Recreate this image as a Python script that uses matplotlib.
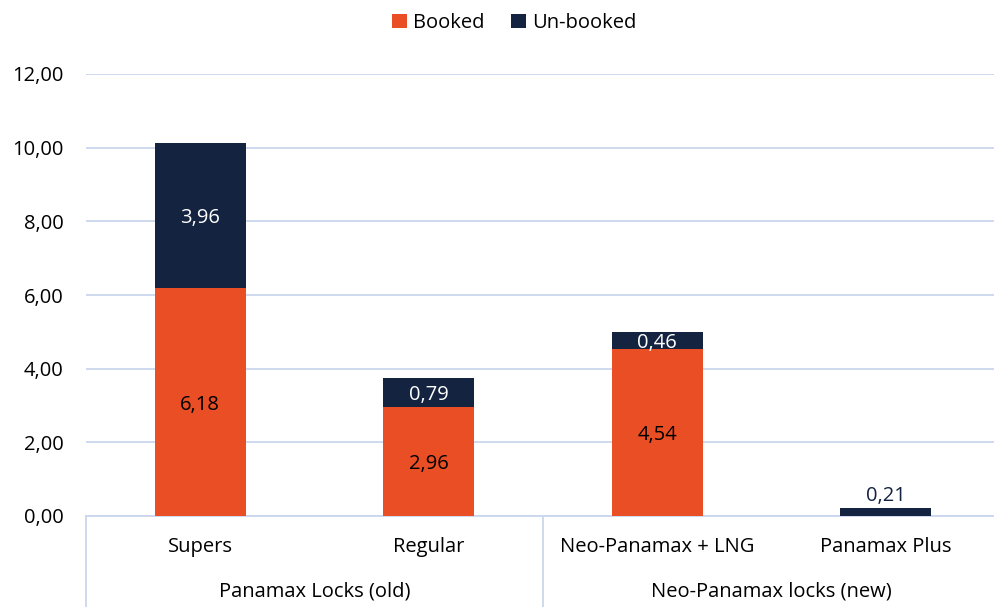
import numpy as np
import matplotlib.pyplot as plt
import matplotlib.transforms as mtransforms

plt.rcParams['font.family'] = ['Open Sans', 'DejaVu Sans']

# ---- data ----
categories = ["Supers", "Regular", "Neo-Panamax + LNG", "Panamax Plus"]
groups = ["Panamax Locks (old)", "Neo-Panamax locks (new)"]
group_sizes = [2, 2]
booked = [6.18, 2.96, 4.54, 0.0]
unbooked = [3.96, 0.79, 0.46, 0.21]

C_BOOKED = "#E94E24"
C_UNBOOKED = "#14233F"
C_GRID = "#CAD7EE"
FS = 14.5

fig = plt.figure(figsize=(9.95, 6.07), dpi=100)
ax = fig.add_axes([86 / 995, 91 / 607, 909 / 995, 442 / 607])

x = np.arange(len(categories))
booked = np.array(booked)
unbooked = np.array(unbooked)
w = 0.40

b1 = ax.bar(x, booked, w, color=C_BOOKED, label="Booked", zorder=3)
b2 = ax.bar(x, unbooked, w, bottom=booked, color=C_UNBOOKED, label="Un-booked", zorder=3)

# data labels
for i in range(len(x)):
    if booked[i] > 0:
        ax.text(x[i], booked[i] / 2, f"{booked[i]:.2f}".replace(".", ","),
                ha="center", va="center_baseline", fontsize=FS, color="black", zorder=4)
    if unbooked[i] > 0.3:
        ax.text(x[i], booked[i] + unbooked[i] / 2, f"{unbooked[i]:.2f}".replace(".", ","),
                ha="center", va="center_baseline", fontsize=FS, color="white", zorder=4)
    elif unbooked[i] > 0:
        ax.text(x[i], booked[i] + unbooked[i] + 0.06, f"{unbooked[i]:.2f}".replace(".", ","),
                ha="center", va="bottom", fontsize=FS, color=C_UNBOOKED, zorder=4)

ax.set_ylim(0, 12)
ax.set_xlim(-0.5, 3.5 - 5 / 228.5)
ax.set_yticks(np.arange(0, 13, 2))
ax.set_yticklabels([f"{v:.2f}".replace(".", ",") for v in np.arange(0, 13, 2)], fontsize=FS)
ax.tick_params(axis="y", length=0, pad=16)
ax.set_xticks([])
ax.yaxis.grid(True, color=C_GRID, linewidth=1.3, zorder=0)
for s in ["left", "right", "top"]:
    ax.spines[s].set_visible(False)
ax.spines["bottom"].set_color(C_GRID)
ax.spines["bottom"].set_linewidth(1.3)

# two-level category axis
trans = mtransforms.blended_transform_factory(ax.transData, ax.transAxes)
for i, c in enumerate(categories):
    ax.text(x[i], -0.070, c, transform=trans, ha="center", va="center", fontsize=FS)
start = 0
bounds = [-0.5]
for g, n in zip(groups, group_sizes):
    mid = start + (n - 1) / 2
    ax.text(mid, -0.170, g, transform=trans, ha="center", va="center", fontsize=FS)
    start += n
    bounds.append(start - 0.5)
for bx in bounds:
    ax.plot([bx, bx], [0, -0.21], transform=trans, color=C_GRID, linewidth=1.3, clip_on=False)

fig.legend(handles=[b1, b2], loc="center", bbox_to_anchor=(514 / 995, 1 - 23 / 607),
           ncol=2, frameon=False, fontsize=FS, handlelength=0.75, handleheight=0.75,
           handletextpad=0.3, columnspacing=1.3)

fig.savefig("out.png", dpi=100)
